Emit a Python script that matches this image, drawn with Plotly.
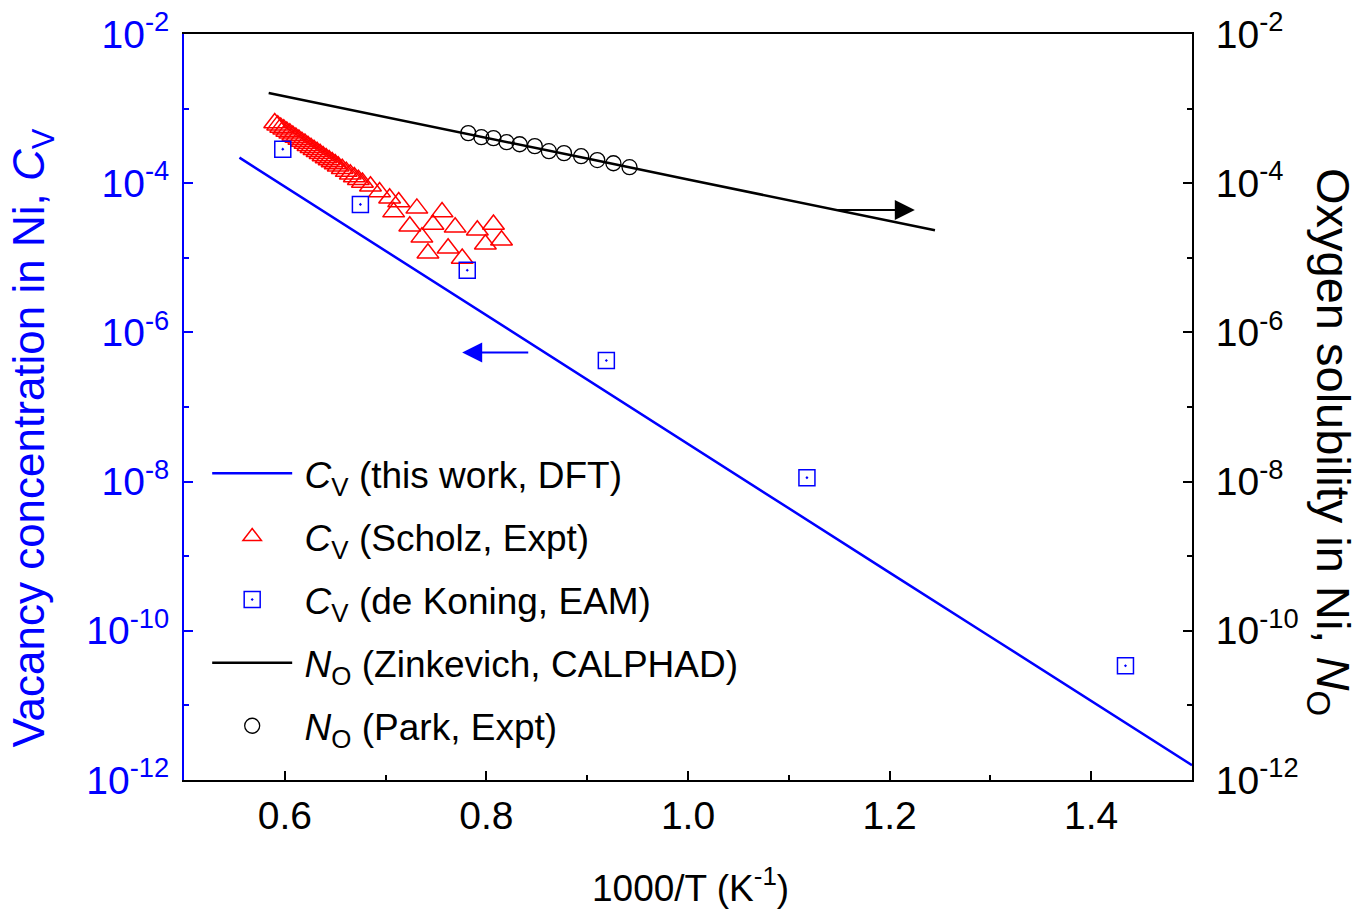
import plotly.graph_objects as go

# ---------------- data ----------------
dft_x = [0.555, 0.7, 0.8, 0.9, 1.0, 1.1, 1.2, 1.3, 1.4, 1.5]
dft_cv = [2.2e-4, 1.23e-5, 1.70e-6, 2.34e-7, 3.24e-8, 4.37e-9, 6.03e-10, 8.32e-11, 1.15e-11, 1.58e-12]

scholz_x = [0.590, 0.593, 0.596, 0.599, 0.602, 0.605, 0.608, 0.611, 0.614, 0.617,
            0.620, 0.623, 0.626, 0.629, 0.632, 0.635, 0.638, 0.641, 0.644, 0.647,
            0.650, 0.653, 0.657, 0.661, 0.665, 0.669, 0.673, 0.677,
            0.685, 0.694, 0.704, 0.713, 0.708, 0.731, 0.756, 0.724, 0.747, 0.769,
            0.791, 0.807, 0.736, 0.762, 0.742, 0.776, 0.799, 0.815]
scholz_cv = [6.4e-4, 6.0e-4, 5.6e-4, 5.3e-4, 4.95e-4, 4.66e-4, 4.37e-4, 4.1e-4, 3.85e-4, 3.61e-4,
             3.4e-4, 3.18e-4, 2.99e-4, 2.81e-4, 2.64e-4, 2.48e-4, 2.32e-4, 2.18e-4, 2.05e-4, 1.92e-4,
             1.81e-4, 1.69e-4, 1.56e-4, 1.43e-4, 1.32e-4, 1.21e-4, 1.11e-4, 1.02e-4,
             9.1e-5, 7.6e-5, 6.3e-5, 5.6e-5, 4.1e-5, 4.6e-5, 4.1e-5, 2.65e-5, 2.8e-5, 2.56e-5,
             2.34e-5, 2.8e-5, 1.88e-5, 1.34e-5, 1.15e-5, 9.8e-6, 1.52e-5, 1.72e-5]

dekoning_x = [0.598, 0.675, 0.781, 0.919, 1.118, 1.434]
dekoning_cv = [2.86e-4, 5.2e-5, 6.8e-6, 4.2e-7, 1.13e-8, 3.4e-11]

zink_x = [0.584, 0.7, 0.8, 0.9, 1.0, 1.1, 1.2, 1.245]
zink_no = [1.62e-3, 7.76e-4, 4.07e-4, 2.14e-4, 1.12e-4, 5.89e-5, 3.09e-5, 2.34e-5]

park_x = [0.782, 0.795, 0.807, 0.820, 0.833, 0.848, 0.862, 0.877, 0.894, 0.910, 0.926, 0.942]
park_no = [4.69e-4, 4.14e-4, 4.02e-4, 3.55e-4, 3.33e-4, 3.14e-4, 2.69e-4, 2.53e-4, 2.30e-4, 2.04e-4, 1.85e-4, 1.64e-4]

x_ticks = [0.6, 0.8, 1.0, 1.2, 1.4]
x_ticktext = ["0.6", "0.8", "1.0", "1.2", "1.4"]
x_minor = [0.7, 0.9, 1.1, 1.3]
y_ticks = [1e-12, 1e-10, 1e-8, 1e-6, 1e-4, 1e-2]
y_ticktext = ["10<sup>-12</sup>", "10<sup>-10</sup>", "10<sup>-8</sup>",
              "10<sup>-6</sup>", "10<sup>-4</sup>", "10<sup>-2</sup>"]
y_minor = [1e-11, 1e-9, 1e-7, 1e-5, 1e-3]

# arrows (x head, x tail, log10 y)
blue_arrow = (0.776, 0.843, -6.27)
black_arrow = (1.225, 1.146, -4.36)

FONT = "Liberation Sans, Arial, sans-serif"
BLUE = "#0000FF"
RED = "#FF0000"
SP = "\u2009"

fig = go.Figure()

fig.add_trace(go.Scatter(x=dft_x, y=dft_cv, mode="lines", line=dict(color=BLUE, width=2.5),
                         name=SP + "<i>C</i><sub>V</sub> (this work, DFT)", legendgroup="g1"))
fig.add_trace(go.Scatter(x=scholz_x, y=scholz_cv, mode="markers",
                         marker=dict(symbol="triangle-up-open", size=19, color=RED, line=dict(width=1.5, color=RED)),
                         name=SP + "<i>C</i><sub>V</sub> (Scholz, Expt)", legendgroup="g2"))
fig.add_trace(go.Scatter(x=dekoning_x, y=dekoning_cv, mode="markers",
                         marker=dict(symbol="square-open-dot", size=16, color=BLUE, line=dict(width=1.5, color=BLUE)),
                         name=SP + "<i>C</i><sub>V</sub> (de Koning, EAM)", legendgroup="g3"))
fig.add_trace(go.Scatter(x=zink_x, y=zink_no, mode="lines", yaxis="y2", line=dict(color="black", width=2.5),
                         name=SP + "<i>N</i><sub>O</sub> (Zinkevich, CALPHAD)", legendgroup="g4"))
fig.add_trace(go.Scatter(x=park_x, y=park_no, mode="markers", yaxis="y2",
                         marker=dict(symbol="circle-open", size=15, color="black", line=dict(width=1.3, color="black")),
                         name=SP + "<i>N</i><sub>O</sub> (Park, Expt)", legendgroup="g5"))

axis_common = dict(showgrid=False, zeroline=False, showline=True, linewidth=2, ticks="inside",
                   ticklen=9, tickwidth=2, automargin=False)

fig.update_layout(
    width=1360, height=909, autosize=False,
    margin=dict(l=184, r=168, t=34, b=129, autoexpand=False),
    paper_bgcolor="white", plot_bgcolor="white",
    font=dict(family=FONT, size=37, color="black"),
    showlegend=True,
    legend=dict(x=0.023, y=0.452, xanchor="left", yanchor="top", bgcolor="rgba(0,0,0,0)",
                font=dict(size=37), itemwidth=80, tracegroupgap=12, itemsizing="trace"),
    xaxis=dict(range=[0.5, 1.5], tickmode="array", tickvals=x_ticks, ticktext=x_ticktext,
               linecolor="black", tickcolor="black", mirror=True,
               tickfont=dict(size=39, color="black"),
               minor=dict(tickmode="array", tickvals=x_minor, ticks="inside", ticklen=5, tickwidth=2, tickcolor="black"),
               **axis_common),
    yaxis=dict(type="log", range=[-12, -2], tickmode="array", tickvals=y_ticks, ticktext=y_ticktext,
               linecolor=BLUE, tickcolor=BLUE, tickfont=dict(size=39, color=BLUE), ticklabelstandoff=5,
               minor=dict(tickmode="array", tickvals=y_minor, ticks="inside", ticklen=5, tickwidth=2, tickcolor=BLUE),
               **axis_common),
    yaxis2=dict(type="log", range=[-12, -2], overlaying="y", side="right", tickmode="array",
                tickvals=y_ticks, ticktext=y_ticktext, ticklabelstandoff=14,
                linecolor="black", tickcolor="black", tickfont=dict(size=39, color="black"),
                minor=dict(tickmode="array", tickvals=y_minor, ticks="inside", ticklen=5, tickwidth=2, tickcolor="black"),
                **axis_common),
)

annotations = [
    dict(text="Vacancy concentration in Ni, <i>C</i><sub>V</sub>", xref="paper", yref="paper",
         x=-0.1508, y=0.459, xanchor="center", yanchor="middle", textangle=-90, showarrow=False,
         font=dict(size=44, color=BLUE, family=FONT)),
    dict(text="Oxygen solubility in Ni, <i>N</i><sub>O</sub>", xref="paper", yref="paper",
         x=1.137, y=0.453, xanchor="center", yanchor="middle", textangle=90, showarrow=False,
         font=dict(size=47, color="black", family=FONT)),
    dict(text="1000/T (K<sup>-1</sup>)", xref="paper", yref="paper",
         x=0.502, y=-0.142, xanchor="center", yanchor="middle", showarrow=False,
         font=dict(size=37, color="black", family=FONT)),
    dict(text="", xref="x", yref="y", axref="x", ayref="y",
         x=blue_arrow[0], y=blue_arrow[2], ax=blue_arrow[1], ay=blue_arrow[2],
         showarrow=True, arrowhead=2, arrowsize=2, arrowwidth=2, arrowcolor=BLUE),
    dict(text="", xref="x", yref="y", axref="x", ayref="y",
         x=black_arrow[0], y=black_arrow[2], ax=black_arrow[1], ay=black_arrow[2],
         showarrow=True, arrowhead=2, arrowsize=2, arrowwidth=2, arrowcolor="black"),
]
fig.update_layout(annotations=annotations)

fig.write_html("out.html")
